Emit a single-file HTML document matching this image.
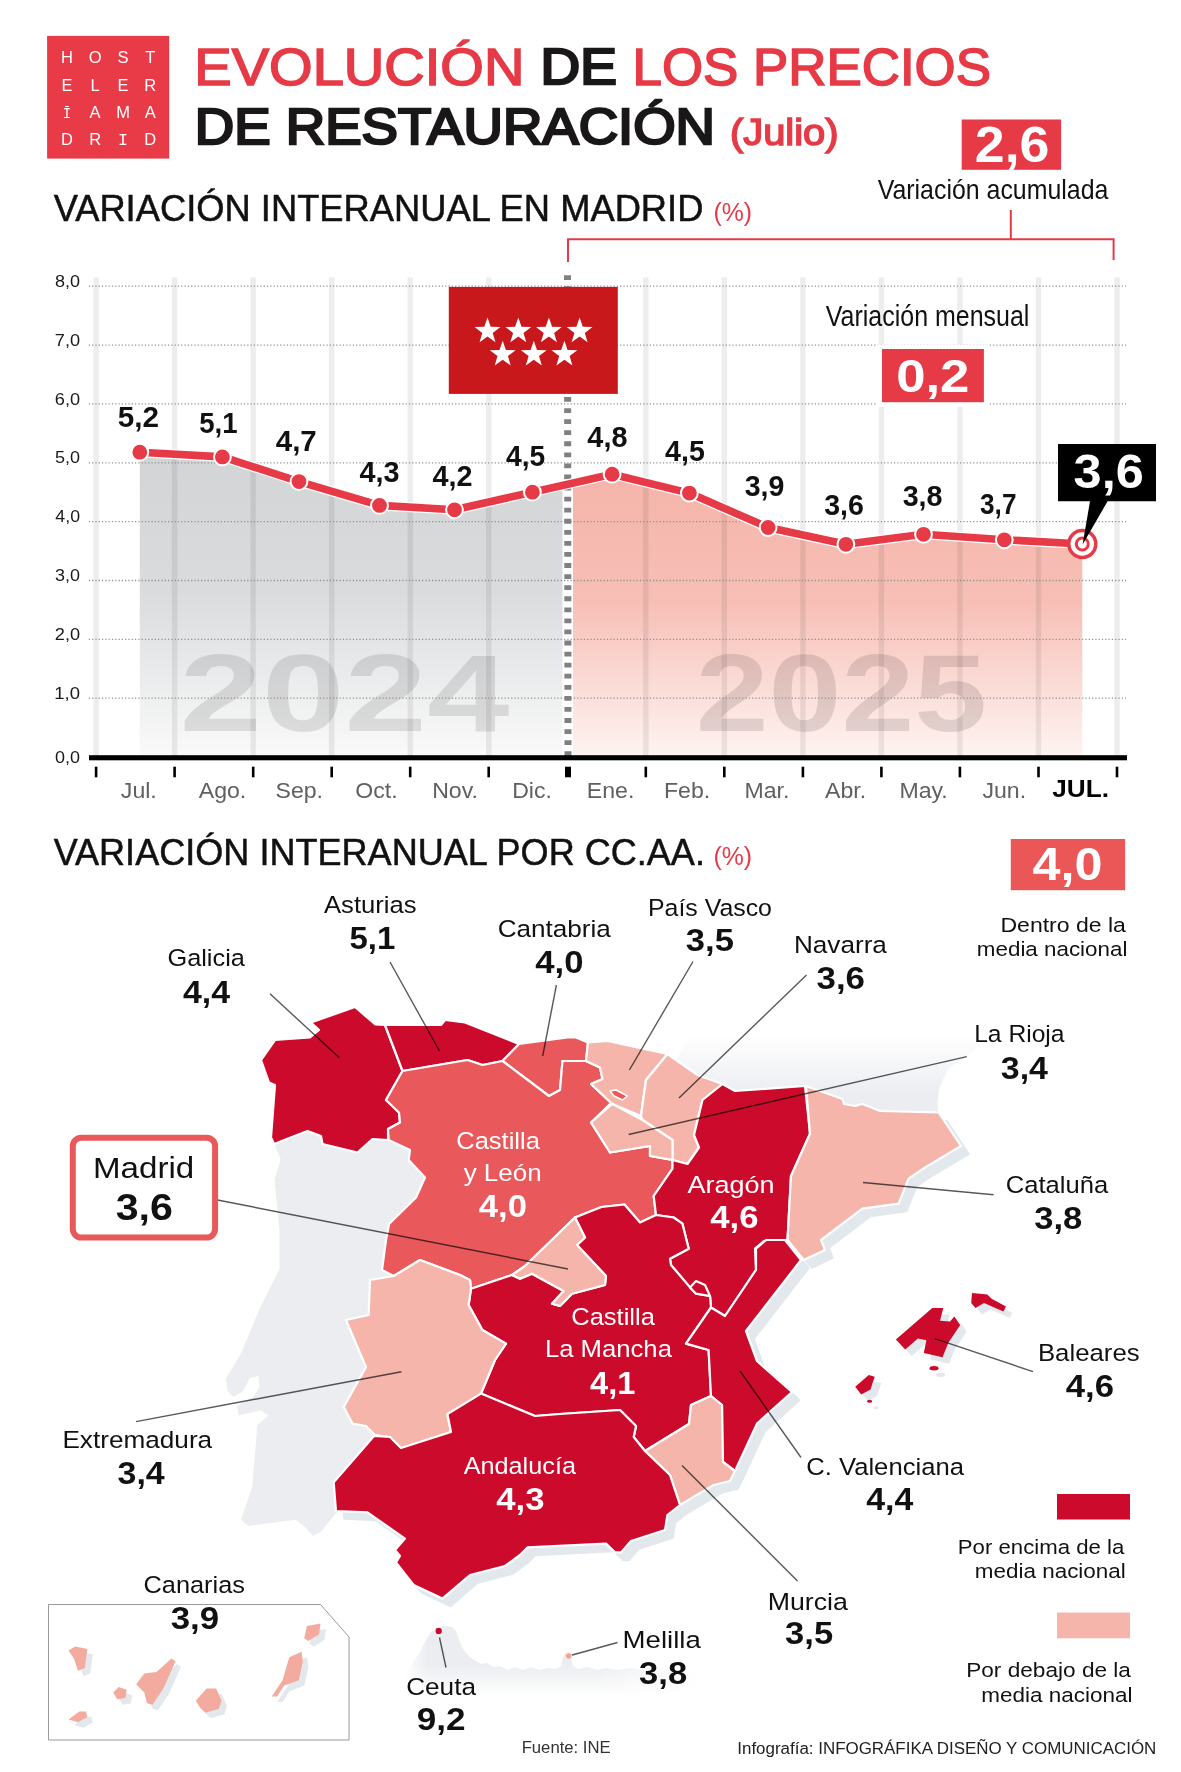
<!DOCTYPE html>
<html lang="es"><head><meta charset="utf-8"><title>Evolución de los precios de restauración</title>
<style>
html,body{margin:0;padding:0;background:#fff;}
body{width:1181px;height:1772px;overflow:hidden;font-family:"Liberation Sans", sans-serif;}
svg{display:block;font-family:"Liberation Sans", sans-serif;}
text{white-space:pre;}
</style></head><body>
<svg width="1181" height="1772" viewBox="0 0 1181 1772">
<defs>
<linearGradient id="gGray" x1="0" y1="0" x2="0" y2="1"><stop offset="0" stop-color="#D2D4D6"/><stop offset="0.45" stop-color="#D9DBDD"/><stop offset="1" stop-color="#FAFAFA"/></linearGradient>
<linearGradient id="gPink" x1="0" y1="0" x2="0" y2="1"><stop offset="0" stop-color="#F5B4A9"/><stop offset="0.45" stop-color="#F7BFB6"/><stop offset="1" stop-color="#FEF4F2"/></linearGradient>
<linearGradient id="gFrance" x1="0" y1="0" x2="0" y2="1"><stop offset="0.08" stop-color="#FFFFFF"/><stop offset="0.72" stop-color="#EBEDF1"/></linearGradient>
<linearGradient id="gMorocco" x1="0" y1="0" x2="0" y2="1"><stop offset="0.55" stop-color="#EBEDF1"/><stop offset="1" stop-color="#FFFFFF"/></linearGradient>
<linearGradient id="gFadeR" x1="0" y1="0" x2="1" y2="0"><stop offset="0" stop-color="#fff" stop-opacity="0"/><stop offset="0.9" stop-color="#fff" stop-opacity="1"/></linearGradient>
<linearGradient id="gFadeL" x1="0" y1="0" x2="1" y2="0"><stop offset="0.2" stop-color="#fff" stop-opacity="1"/><stop offset="1" stop-color="#fff" stop-opacity="0"/></linearGradient>
</defs>
<g id="header">
<rect x="47.1" y="35.9" width="122.1" height="122.7" fill="#E83A47"/>
<text x="67 95.1 123 150.2" y="63.2" font-size="16.5" fill="#fff" text-anchor="middle">HOST</text>
<text x="67 95.1 123 150.2" y="90.5" font-size="16.5" fill="#fff" text-anchor="middle">ELER</text>
<text x="67 95.1 123 150.2" y="118.3" font-size="16.5" fill="#fff" text-anchor="middle"><tspan font-family="Liberation Mono, monospace" font-size="14">Ī</tspan>AMA</text>
<text x="67 95.1 123 150.2" y="145.0" font-size="16.5" fill="#fff" text-anchor="middle">DR<tspan font-family="Liberation Mono, monospace">I</tspan>D</text>
<text x="194.32" y="85.4" font-size="52" font-weight="400" fill="#E63A47" textLength="330.10" lengthAdjust="spacingAndGlyphs" stroke="#E63A47" stroke-width="1.6">EVOLUCIÓN</text>
<text x="540.56" y="84.4" font-size="49.5" font-weight="400" fill="#1a1718" textLength="76.21" lengthAdjust="spacingAndGlyphs" stroke="#1a1718" stroke-width="2.5" stroke-linejoin="miter">DE</text>
<text x="632.57" y="85.4" font-size="52" font-weight="400" fill="#E63A47" textLength="358.44" lengthAdjust="spacingAndGlyphs" stroke="#E63A47" stroke-width="1.6">LOS PRECIOS</text>
<text x="194.89" y="143.8" font-size="50.5" font-weight="400" fill="#1a1718" textLength="520.14" lengthAdjust="spacingAndGlyphs" stroke="#1a1718" stroke-width="2.5" stroke-linejoin="miter">DE RESTAURACIÓN</text>
<text x="729.96" y="145.0" font-size="36.5" font-weight="400" fill="#E63A47" textLength="108.60" lengthAdjust="spacingAndGlyphs" stroke="#E63A47" stroke-width="1.5">(Julio)</text>
<rect x="961.7" y="119.5" width="99.4" height="50.3" fill="#E63A47"/>
<text x="974.79" y="162.2" font-size="49.5" font-weight="700" fill="#fff" textLength="74.60" lengthAdjust="spacingAndGlyphs" >2,6</text>
<text x="877.70" y="199.2" font-size="28" font-weight="400" fill="#111" textLength="230.68" lengthAdjust="spacingAndGlyphs" >Variación acumulada</text>
<path d="M568,262 V239.2 H1113.6 V260 M1010.8,239.2 V210" fill="none" stroke="#E63A47" stroke-width="2"/>
<text x="53.65" y="221.0" font-size="37" font-weight="400" fill="#111" textLength="649.79" lengthAdjust="spacingAndGlyphs" stroke="#111" stroke-width="0.5">VARIACIÓN INTERANUAL EN MADRID</text>
<text x="713.41" y="221.0" font-size="25.5" font-weight="400" fill="#E63A47" textLength="38.58" lengthAdjust="spacingAndGlyphs" >(%)</text>
</g>
<g id="chart">
<polygon points="139.8,452.2 222.4,456.9 299.0,481.6 379.5,505.4 454.5,509.8 532.4,492.2 568,484.2 568,757.0 139.8,757.0" fill="url(#gGray)"/>
<polygon points="568,484.2 612.1,474.2 689.4,493.1 768.1,527.5 845.9,544.3 923.5,534.3 1004.3,539.8 1082.3,544.0 1082.3,757.0 568,757.0" fill="url(#gPink)"/>
<rect x="562.5" y="440" width="10.5" height="317.0" fill="#fff"/>
<text x="179.55" y="731.2" font-size="109" font-weight="700" fill="#000" textLength="329.90" lengthAdjust="spacingAndGlyphs" fill-opacity="0.105">2024</text>
<text x="695.67" y="731.2" font-size="109" font-weight="700" fill="#1d1010" textLength="291.57" lengthAdjust="spacingAndGlyphs" fill-opacity="0.125">2025</text>
<rect x="93.35" y="277.5" width="5.5" height="479.5" fill="#000" fill-opacity="0.072"/>
<rect x="171.88" y="277.5" width="5.5" height="479.5" fill="#000" fill-opacity="0.072"/>
<rect x="250.41" y="277.5" width="5.5" height="479.5" fill="#000" fill-opacity="0.072"/>
<rect x="328.94" y="277.5" width="5.5" height="479.5" fill="#000" fill-opacity="0.072"/>
<rect x="407.47" y="277.5" width="5.5" height="479.5" fill="#000" fill-opacity="0.072"/>
<rect x="486.00" y="277.5" width="5.5" height="479.5" fill="#000" fill-opacity="0.072"/>
<rect x="643.06" y="277.5" width="5.5" height="479.5" fill="#000" fill-opacity="0.072"/>
<rect x="721.59" y="277.5" width="5.5" height="479.5" fill="#000" fill-opacity="0.072"/>
<rect x="800.12" y="277.5" width="5.5" height="479.5" fill="#000" fill-opacity="0.072"/>
<rect x="878.65" y="277.5" width="5.5" height="479.5" fill="#000" fill-opacity="0.072"/>
<rect x="957.18" y="277.5" width="5.5" height="479.5" fill="#000" fill-opacity="0.072"/>
<rect x="1035.71" y="277.5" width="5.5" height="479.5" fill="#000" fill-opacity="0.072"/>
<rect x="1114.24" y="277.5" width="5.5" height="479.5" fill="#000" fill-opacity="0.072"/>
<line x1="88.8" y1="698.1" x2="1126" y2="698.1" stroke="#8f8f8f" stroke-width="1.3" stroke-dasharray="1.2 2.1"/>
<line x1="88.8" y1="639.3" x2="1126" y2="639.3" stroke="#8f8f8f" stroke-width="1.3" stroke-dasharray="1.2 2.1"/>
<line x1="88.8" y1="580.5" x2="1126" y2="580.5" stroke="#8f8f8f" stroke-width="1.3" stroke-dasharray="1.2 2.1"/>
<line x1="88.8" y1="521.6" x2="1126" y2="521.6" stroke="#8f8f8f" stroke-width="1.3" stroke-dasharray="1.2 2.1"/>
<line x1="88.8" y1="462.8" x2="1126" y2="462.8" stroke="#8f8f8f" stroke-width="1.3" stroke-dasharray="1.2 2.1"/>
<line x1="88.8" y1="403.9" x2="1126" y2="403.9" stroke="#8f8f8f" stroke-width="1.3" stroke-dasharray="1.2 2.1"/>
<line x1="88.8" y1="345.1" x2="1126" y2="345.1" stroke="#8f8f8f" stroke-width="1.3" stroke-dasharray="1.2 2.1"/>
<line x1="88.8" y1="286.2" x2="1126" y2="286.2" stroke="#8f8f8f" stroke-width="1.3" stroke-dasharray="1.2 2.1"/>
<text x="55.07" y="762.8" font-size="16.3" font-weight="400" fill="#1a1a1a" textLength="24.96" lengthAdjust="spacingAndGlyphs" >0,0</text>
<text x="54.31" y="698.9" font-size="16.3" font-weight="400" fill="#1a1a1a" textLength="25.74" lengthAdjust="spacingAndGlyphs" >1,0</text>
<text x="54.79" y="640.0" font-size="16.3" font-weight="400" fill="#1a1a1a" textLength="25.25" lengthAdjust="spacingAndGlyphs" >2,0</text>
<text x="55.07" y="581.2" font-size="16.3" font-weight="400" fill="#1a1a1a" textLength="24.96" lengthAdjust="spacingAndGlyphs" >3,0</text>
<text x="55.34" y="522.3" font-size="16.3" font-weight="400" fill="#1a1a1a" textLength="24.68" lengthAdjust="spacingAndGlyphs" >4,0</text>
<text x="54.98" y="463.4" font-size="16.3" font-weight="400" fill="#1a1a1a" textLength="25.05" lengthAdjust="spacingAndGlyphs" >5,0</text>
<text x="54.79" y="404.6" font-size="16.3" font-weight="400" fill="#1a1a1a" textLength="25.25" lengthAdjust="spacingAndGlyphs" >6,0</text>
<text x="54.79" y="345.8" font-size="16.3" font-weight="400" fill="#1a1a1a" textLength="25.25" lengthAdjust="spacingAndGlyphs" >7,0</text>
<text x="54.98" y="286.9" font-size="16.3" font-weight="400" fill="#1a1a1a" textLength="25.05" lengthAdjust="spacingAndGlyphs" >8,0</text>
<line x1="567.5" y1="275.3" x2="568" y2="757.0" stroke="#808080" stroke-width="7" stroke-dasharray="4.8 6.27"/>
<rect x="448.8" y="286.9" width="169" height="107" fill="#C8181C"/>
<polygon points="487.5,317.6 490.7,326.8 500.4,327.0 492.7,332.9 495.5,342.2 487.5,336.6 479.5,342.2 482.3,332.9 474.6,327.0 484.3,326.8" fill="#fff"/>
<polygon points="518.3,317.6 521.5,326.8 531.2,327.0 523.5,332.9 526.3,342.2 518.3,336.6 510.3,342.2 513.1,332.9 505.4,327.0 515.1,326.8" fill="#fff"/>
<polygon points="548.9,317.6 552.1,326.8 561.8,327.0 554.1,332.9 556.9,342.2 548.9,336.6 540.9,342.2 543.7,332.9 536.0,327.0 545.7,326.8" fill="#fff"/>
<polygon points="579.6,317.6 582.8,326.8 592.5,327.0 584.8,332.9 587.6,342.2 579.6,336.6 571.6,342.2 574.4,332.9 566.7,327.0 576.4,326.8" fill="#fff"/>
<polygon points="502.7,340.8 505.9,350.0 515.6,350.2 507.9,356.1 510.7,365.4 502.7,359.8 494.7,365.4 497.5,356.1 489.8,350.2 499.5,350.0" fill="#fff"/>
<polygon points="533.8,340.8 537.0,350.0 546.7,350.2 539.0,356.1 541.8,365.4 533.8,359.8 525.8,365.4 528.6,356.1 520.9,350.2 530.6,350.0" fill="#fff"/>
<polygon points="564.4,340.8 567.6,350.0 577.3,350.2 569.6,356.1 572.4,365.4 564.4,359.8 556.4,365.4 559.2,356.1 551.5,350.2 561.2,350.0" fill="#fff"/>
<polyline points="139.8,452.2 222.4,456.9 299.0,481.6 379.5,505.4 454.5,509.8 532.4,492.2 612.1,474.2 689.4,493.1 768.1,527.5 845.9,544.3 923.5,534.3 1004.3,539.8 1082.3,544.0" fill="none" stroke="#fff" stroke-width="10" stroke-linejoin="round" stroke-linecap="round"/>
<polyline points="139.8,452.2 222.4,456.9 299.0,481.6 379.5,505.4 454.5,509.8 532.4,492.2 612.1,474.2 689.4,493.1 768.1,527.5 845.9,544.3 923.5,534.3 1004.3,539.8 1082.3,544.0" fill="none" stroke="#E63A47" stroke-width="7.6" stroke-linejoin="round" stroke-linecap="round"/>
<circle cx="139.8" cy="452.2" r="8.4" fill="#E63A47" stroke="#fff" stroke-width="2"/>
<circle cx="222.4" cy="456.9" r="8.4" fill="#E63A47" stroke="#fff" stroke-width="2"/>
<circle cx="299.0" cy="481.6" r="8.4" fill="#E63A47" stroke="#fff" stroke-width="2"/>
<circle cx="379.5" cy="505.4" r="8.4" fill="#E63A47" stroke="#fff" stroke-width="2"/>
<circle cx="454.5" cy="509.8" r="8.4" fill="#E63A47" stroke="#fff" stroke-width="2"/>
<circle cx="532.4" cy="492.2" r="8.4" fill="#E63A47" stroke="#fff" stroke-width="2"/>
<circle cx="612.1" cy="474.2" r="8.4" fill="#E63A47" stroke="#fff" stroke-width="2"/>
<circle cx="689.4" cy="493.1" r="8.4" fill="#E63A47" stroke="#fff" stroke-width="2"/>
<circle cx="768.1" cy="527.5" r="8.4" fill="#E63A47" stroke="#fff" stroke-width="2"/>
<circle cx="845.9" cy="544.3" r="8.4" fill="#E63A47" stroke="#fff" stroke-width="2"/>
<circle cx="923.5" cy="534.3" r="8.4" fill="#E63A47" stroke="#fff" stroke-width="2"/>
<circle cx="1004.3" cy="539.8" r="8.4" fill="#E63A47" stroke="#fff" stroke-width="2"/>
<circle cx="1082.3" cy="544.0" r="13.5" fill="#fff" stroke="#E63A47" stroke-width="3.5"/>
<circle cx="1082.3" cy="544.0" r="6" fill="none" stroke="#E63A47" stroke-width="3"/>
<text x="117.81" y="426.7" font-size="30" font-weight="700" fill="#111" textLength="41.23" lengthAdjust="spacingAndGlyphs" >5,2</text>
<text x="199.17" y="432.5" font-size="30" font-weight="700" fill="#111" textLength="38.42" lengthAdjust="spacingAndGlyphs" >5,1</text>
<text x="275.76" y="450.8" font-size="30" font-weight="700" fill="#111" textLength="41.03" lengthAdjust="spacingAndGlyphs" >4,7</text>
<text x="359.57" y="482.2" font-size="30" font-weight="700" fill="#111" textLength="40.04" lengthAdjust="spacingAndGlyphs" >4,3</text>
<text x="432.47" y="485.5" font-size="30" font-weight="700" fill="#111" textLength="40.04" lengthAdjust="spacingAndGlyphs" >4,2</text>
<text x="506.08" y="465.7" font-size="30" font-weight="700" fill="#111" textLength="39.23" lengthAdjust="spacingAndGlyphs" >4,5</text>
<text x="587.37" y="446.7" font-size="30" font-weight="700" fill="#111" textLength="40.06" lengthAdjust="spacingAndGlyphs" >4,8</text>
<text x="665.07" y="460.6" font-size="30" font-weight="700" fill="#111" textLength="39.75" lengthAdjust="spacingAndGlyphs" >4,5</text>
<text x="744.73" y="495.7" font-size="30" font-weight="700" fill="#111" textLength="39.67" lengthAdjust="spacingAndGlyphs" >3,9</text>
<text x="824.23" y="514.7" font-size="30" font-weight="700" fill="#111" textLength="39.67" lengthAdjust="spacingAndGlyphs" >3,6</text>
<text x="902.63" y="506.4" font-size="30" font-weight="700" fill="#111" textLength="39.90" lengthAdjust="spacingAndGlyphs" >3,8</text>
<text x="980.08" y="514.0" font-size="30" font-weight="700" fill="#111" textLength="36.37" lengthAdjust="spacingAndGlyphs" >3,7</text>
<path d="M1058,444 H1156 V501.3 H1107.6 L1082.6,544.5 L1090,501.3 H1058 Z" fill="#000"/>
<text x="1073.59" y="488.0" font-size="49" font-weight="700" fill="#fff" textLength="70.18" lengthAdjust="spacingAndGlyphs" >3,6</text>
<text x="825.80" y="326.3" font-size="29" font-weight="400" fill="#111" textLength="203.56" lengthAdjust="spacingAndGlyphs" >Variación mensual</text>
<rect x="877" y="344.5" width="112.3" height="62.5" fill="#fff"/>
<rect x="882" y="349" width="101.9" height="53.2" fill="#E63A47"/>
<text x="896.15" y="392.4" font-size="46" font-weight="700" fill="#fff" textLength="73.30" lengthAdjust="spacingAndGlyphs" >0,2</text>
<rect x="89" y="755.2" width="1038" height="5.1" fill="#000"/>
<rect x="94.8" y="766.7" width="2.6" height="10.6" fill="#000"/>
<rect x="173.3" y="766.7" width="2.6" height="10.6" fill="#000"/>
<rect x="251.9" y="766.7" width="2.6" height="10.6" fill="#000"/>
<rect x="330.4" y="766.7" width="2.6" height="10.6" fill="#000"/>
<rect x="408.9" y="766.7" width="2.6" height="10.6" fill="#000"/>
<rect x="487.4" y="766.7" width="2.6" height="10.6" fill="#000"/>
<rect x="565.0" y="766.7" width="6" height="10.6" fill="#000"/>
<rect x="644.5" y="766.7" width="2.6" height="10.6" fill="#000"/>
<rect x="723.0" y="766.7" width="2.6" height="10.6" fill="#000"/>
<rect x="801.6" y="766.7" width="2.6" height="10.6" fill="#000"/>
<rect x="880.1" y="766.7" width="2.6" height="10.6" fill="#000"/>
<rect x="958.6" y="766.7" width="2.6" height="10.6" fill="#000"/>
<rect x="1037.2" y="766.7" width="2.6" height="10.6" fill="#000"/>
<rect x="1115.7" y="766.7" width="2.6" height="10.6" fill="#000"/>
<text x="120.85" y="797.8" font-size="22.5" font-weight="400" fill="#5f6062" textLength="35.95" lengthAdjust="spacingAndGlyphs" >Jul.</text>
<text x="198.75" y="797.8" font-size="22.5" font-weight="400" fill="#5f6062" textLength="47.52" lengthAdjust="spacingAndGlyphs" >Ago.</text>
<text x="275.53" y="797.8" font-size="22.5" font-weight="400" fill="#5f6062" textLength="47.52" lengthAdjust="spacingAndGlyphs" >Sep.</text>
<text x="355.33" y="797.8" font-size="22.5" font-weight="400" fill="#5f6062" textLength="42.35" lengthAdjust="spacingAndGlyphs" >Oct.</text>
<text x="432.19" y="797.8" font-size="22.5" font-weight="400" fill="#5f6062" textLength="45.78" lengthAdjust="spacingAndGlyphs" >Nov.</text>
<text x="512.19" y="797.8" font-size="22.5" font-weight="400" fill="#5f6062" textLength="39.78" lengthAdjust="spacingAndGlyphs" >Dic.</text>
<text x="586.82" y="797.8" font-size="22.5" font-weight="400" fill="#5f6062" textLength="47.52" lengthAdjust="spacingAndGlyphs" >Ene.</text>
<text x="663.96" y="797.8" font-size="22.5" font-weight="400" fill="#5f6062" textLength="46.22" lengthAdjust="spacingAndGlyphs" >Feb.</text>
<text x="744.45" y="797.8" font-size="22.5" font-weight="400" fill="#5f6062" textLength="44.93" lengthAdjust="spacingAndGlyphs" >Mar.</text>
<text x="825.08" y="797.8" font-size="22.5" font-weight="400" fill="#5f6062" textLength="41.09" lengthAdjust="spacingAndGlyphs" >Abr.</text>
<text x="899.42" y="797.8" font-size="22.5" font-weight="400" fill="#5f6062" textLength="48.34" lengthAdjust="spacingAndGlyphs" >May.</text>
<text x="982.44" y="797.8" font-size="22.5" font-weight="400" fill="#5f6062" textLength="43.66" lengthAdjust="spacingAndGlyphs" >Jun.</text>
<text x="1052.31" y="797.3" font-size="23.7" font-weight="700" fill="#000" textLength="56.75" lengthAdjust="spacingAndGlyphs" >JUL.</text>
</g>
<g id="map">
<text x="53.65" y="864.7" font-size="37" font-weight="400" fill="#111" textLength="651.31" lengthAdjust="spacingAndGlyphs" stroke="#111" stroke-width="0.5">VARIACIÓN INTERANUAL POR CC.AA.</text>
<text x="713.41" y="864.7" font-size="25.5" font-weight="400" fill="#E63A47" textLength="38.58" lengthAdjust="spacingAndGlyphs" >(%)</text>
<rect x="1010.8" y="839" width="114.3" height="51.2" fill="#EB5656"/>
<text x="1032.45" y="880.1" font-size="46.8" font-weight="700" fill="#fff" textLength="69.92" lengthAdjust="spacingAndGlyphs" >4,0</text>
<text x="1000.46" y="931.8" font-size="20.5" font-weight="400" fill="#111" textLength="125.49" lengthAdjust="spacingAndGlyphs" >Dentro de la</text>
<text x="976.85" y="956.3" font-size="20.5" font-weight="400" fill="#111" textLength="150.54" lengthAdjust="spacingAndGlyphs" >media nacional</text>
<g transform="translate(8,8)" fill="#E3E8ED" stroke="#E3E8ED" stroke-width="1.5" stroke-linejoin="round">
<polygon points="311.0,1022.5 355.0,1007.0 375.4,1024.5 385.0,1025.0 402.5,1071.0 386.0,1100.0 399.0,1112.5 400.0,1122.5 388.0,1129.0 388.0,1140.0 372.5,1139.0 357.5,1152.5 322.5,1144.0 321.0,1136.0 307.5,1131.0 274.0,1144.0 271.0,1137.5 275.0,1085.0 269.0,1082.5 261.0,1060.0 275.0,1040.0 310.0,1037.5 319.0,1030.0"/>
<polygon points="385.0,1025.0 441.0,1025.0 445.0,1020.0 465.0,1022.5 519.0,1044.0 502.5,1061.0 482.5,1065.0 467.5,1060.0 402.5,1071.0"/>
<polygon points="519.0,1044.0 567.5,1037.5 576.0,1037.5 588.0,1042.5 586.0,1061.0 562.5,1061.0 560.0,1090.0 549.0,1096.0 502.5,1061.0"/>
<polygon points="588.0,1042.5 607.5,1041.0 667.5,1054.0 646.0,1080.0 641.0,1116.0 612.5,1104.0 591.0,1084.0 602.5,1079.0 600.0,1067.5 586.0,1061.0"/>
<polygon points="667.5,1054.0 672.5,1057.5 697.5,1075.0 722.5,1084.0 702.5,1100.0 694.0,1135.0 699.0,1147.5 687.5,1164.0 672.5,1160.0 672.5,1140.0 642.5,1120.0 641.0,1116.0 646.0,1080.0"/>
<polygon points="611.0,1105.0 591.0,1122.5 610.0,1152.5 650.0,1146.0 650.0,1156.0 672.5,1160.0 672.5,1140.0 642.5,1120.0 612.5,1104.0"/>
<polygon points="402.5,1071.0 467.5,1060.0 482.5,1065.0 502.5,1061.0 549.0,1096.0 560.0,1090.0 562.5,1061.0 586.0,1061.0 600.0,1067.5 602.5,1079.0 591.0,1084.0 611.0,1103.0 591.0,1122.5 610.0,1152.5 650.0,1146.0 650.0,1156.0 672.5,1160.0 672.5,1168.7 653.7,1196.0 656.0,1215.0 640.0,1222.5 624.5,1204.5 601.5,1207.0 575.0,1217.5 525.0,1266.0 512.0,1275.0 471.0,1288.7 470.0,1280.0 460.0,1275.0 420.0,1260.0 393.7,1276.0 382.0,1270.0 386.0,1240.0 389.0,1224.0 416.0,1197.5 425.0,1177.5 408.7,1160.0 410.0,1150.0 388.7,1140.0 388.0,1129.0 400.0,1122.5 399.0,1112.5 386.0,1100.0"/>
<polygon points="575.0,1217.5 525.0,1266.0 512.0,1275.0 520.0,1278.7 532.0,1273.7 563.6,1291.0 552.0,1303.7 560.0,1306.0 572.0,1293.7 605.0,1285.0 606.0,1276.0 577.0,1245.0 585.0,1237.5"/>
<polygon points="722.5,1084.0 735.0,1091.0 805.0,1086.0 810.0,1133.7 791.0,1176.0 787.5,1240.0 764.0,1241.0 755.0,1248.6 756.0,1270.0 725.0,1316.0 711.0,1307.5 710.0,1296.0 696.0,1293.7 690.0,1287.4 671.0,1265.0 670.0,1258.7 688.7,1248.7 682.4,1223.7 673.7,1217.5 656.0,1215.0 653.7,1196.0 672.5,1168.7 672.5,1160.0 687.5,1164.0 699.0,1147.5 694.0,1135.0 702.5,1100.0"/>
<polygon points="806.0,1086.0 842.5,1099.0 844.0,1104.0 855.0,1106.0 862.5,1104.0 880.0,1111.0 938.6,1112.5 961.0,1146.0 925.0,1167.5 908.6,1178.6 898.6,1203.6 862.4,1208.6 821.0,1240.0 825.0,1250.0 803.7,1260.0 787.5,1240.0 791.0,1176.0 810.0,1133.7"/>
<polygon points="766.0,1240.0 785.0,1240.0 801.0,1260.0 746.0,1331.0 757.0,1361.0 792.0,1392.0 757.0,1423.6 735.0,1471.0 722.0,1461.0 722.0,1405.0 711.0,1396.0 708.6,1350.0 686.0,1343.6 711.0,1307.5 725.0,1316.0 756.0,1270.0 756.0,1248.7"/>
<polygon points="691.0,1405.0 711.0,1396.0 722.0,1405.0 723.0,1462.0 735.0,1471.0 730.0,1481.0 713.6,1485.0 680.0,1505.0 670.0,1475.0 645.0,1451.0 689.0,1424.0"/>
<polygon points="575.0,1217.5 601.5,1207.0 624.5,1204.5 640.0,1222.5 656.0,1215.0 673.7,1217.5 682.4,1223.7 688.7,1248.7 670.0,1258.7 671.0,1265.0 690.0,1287.4 696.0,1293.7 710.0,1296.0 711.0,1307.5 686.0,1343.6 708.6,1350.0 711.0,1396.0 691.0,1405.0 689.0,1424.0 645.0,1451.0 633.7,1437.0 636.0,1426.0 620.0,1410.0 560.0,1414.0 535.0,1416.0 481.0,1393.6 495.0,1360.0 506.0,1343.6 482.4,1330.0 468.6,1305.0 471.0,1288.7 512.0,1275.0 520.0,1278.7 532.0,1273.7 563.6,1291.0 552.0,1303.7 560.0,1306.0 572.0,1293.7 605.0,1285.0 606.0,1276.0 577.0,1245.0 585.0,1237.5"/>
<polygon points="370.0,1280.0 393.7,1276.0 420.0,1260.0 460.0,1275.0 470.0,1280.0 471.0,1288.7 468.6,1305.0 482.4,1330.0 506.0,1343.6 495.0,1360.0 481.0,1393.6 447.4,1416.0 451.0,1432.0 401.0,1448.6 390.0,1437.0 375.0,1435.0 366.0,1426.0 352.5,1423.6 343.7,1407.0 366.0,1367.0 346.0,1320.0 368.7,1315.0"/>
<polygon points="374.0,1436.0 390.0,1437.0 401.0,1448.0 451.0,1432.0 447.4,1414.0 481.0,1393.6 535.0,1416.0 560.0,1414.0 620.0,1410.0 636.0,1426.0 633.7,1437.0 645.0,1451.0 670.0,1475.0 680.0,1505.0 667.4,1515.0 665.0,1530.0 631.0,1541.0 621.0,1552.4 615.0,1552.4 606.0,1543.6 527.4,1547.4 520.0,1555.0 505.0,1566.0 470.0,1575.0 442.4,1598.6 413.7,1585.0 408.7,1578.6 396.0,1562.4 400.0,1556.0 395.0,1550.0 405.0,1538.6 367.5,1512.4 336.0,1511.0 333.7,1482.4"/>
</g>
<polygon points="676.0,1060.0 684.0,1046.0 692.0,1028.0 990.0,1028.0 985.0,1036.0 977.0,1048.0 965.0,1058.0 949.0,1068.0 944.0,1077.0 939.0,1090.0 937.5,1102.0 938.0,1114.0 880.0,1113.0 810.0,1120.0 740.0,1100.0" fill="url(#gFrance)"/>
<polygon points="274.5,1144.8 280.7,1159.7 274.5,1179.6 279.5,1231.7 279.5,1269.0 259.6,1308.7 241.0,1353.4 226.0,1378.3 227.3,1390.7 233.5,1396.9 243.5,1390.7 249.7,1378.3 258.4,1375.8 259.6,1387.0 253.4,1396.9 237.2,1405.6 238.5,1415.5 260.8,1410.5 268.3,1415.5 257.1,1425.4 255.9,1442.8 252.1,1487.5 241.0,1519.8 248.4,1526.0 295.6,1519.8 305.5,1527.3 313.0,1536.0 320.4,1532.2 337.0,1512.0 345.0,1500.0 400.0,1440.0 440.0,1300.0 430.0,1180.0 400.0,1130.0 330.0,1125.0" fill="#EBEDF1"/>
<polygon points="404.0,1676.0 412.0,1664.0 420.0,1652.0 426.0,1640.0 431.0,1632.0 437.0,1627.5 445.0,1626.0 452.0,1627.0 456.0,1631.0 459.0,1640.0 463.0,1649.0 468.0,1655.0 474.0,1660.0 481.0,1664.0 487.0,1663.0 493.0,1667.0 500.0,1666.0 507.0,1670.0 515.0,1667.0 523.0,1670.0 531.0,1667.0 540.0,1670.0 548.0,1668.0 556.0,1669.0 561.0,1666.0 563.0,1656.0 567.0,1652.0 571.0,1657.0 573.0,1666.0 578.0,1669.0 588.0,1667.0 597.0,1670.0 607.0,1668.0 618.0,1670.0 630.0,1668.0 642.0,1670.0 660.0,1669.0 705.0,1671.0 705.0,1696.0 398.0,1696.0" fill="url(#gMorocco)"/>
<rect x="600" y="1640" width="110" height="60" fill="url(#gFadeR)"/>
<rect x="398" y="1640" width="30" height="60" fill="url(#gFadeL)"/>
<g stroke="#fff" stroke-width="2.2" stroke-linejoin="round">
<polygon points="311.0,1022.5 355.0,1007.0 375.4,1024.5 385.0,1025.0 402.5,1071.0 386.0,1100.0 399.0,1112.5 400.0,1122.5 388.0,1129.0 388.0,1140.0 372.5,1139.0 357.5,1152.5 322.5,1144.0 321.0,1136.0 307.5,1131.0 274.0,1144.0 271.0,1137.5 275.0,1085.0 269.0,1082.5 261.0,1060.0 275.0,1040.0 310.0,1037.5 319.0,1030.0" fill="#CB0A2C"/>
<polygon points="385.0,1025.0 441.0,1025.0 445.0,1020.0 465.0,1022.5 519.0,1044.0 502.5,1061.0 482.5,1065.0 467.5,1060.0 402.5,1071.0" fill="#CB0A2C"/>
<polygon points="519.0,1044.0 567.5,1037.5 576.0,1037.5 588.0,1042.5 586.0,1061.0 562.5,1061.0 560.0,1090.0 549.0,1096.0 502.5,1061.0" fill="#E9595C"/>
<polygon points="402.5,1071.0 467.5,1060.0 482.5,1065.0 502.5,1061.0 549.0,1096.0 560.0,1090.0 562.5,1061.0 586.0,1061.0 600.0,1067.5 602.5,1079.0 591.0,1084.0 611.0,1103.0 591.0,1122.5 610.0,1152.5 650.0,1146.0 650.0,1156.0 672.5,1160.0 672.5,1168.7 653.7,1196.0 656.0,1215.0 640.0,1222.5 624.5,1204.5 601.5,1207.0 575.0,1217.5 525.0,1266.0 512.0,1275.0 471.0,1288.7 470.0,1280.0 460.0,1275.0 420.0,1260.0 393.7,1276.0 382.0,1270.0 386.0,1240.0 389.0,1224.0 416.0,1197.5 425.0,1177.5 408.7,1160.0 410.0,1150.0 388.7,1140.0 388.0,1129.0 400.0,1122.5 399.0,1112.5 386.0,1100.0" fill="#E9595C"/>
<polygon points="588.0,1042.5 607.5,1041.0 667.5,1054.0 646.0,1080.0 641.0,1116.0 612.5,1104.0 591.0,1084.0 602.5,1079.0 600.0,1067.5 586.0,1061.0" fill="#F5B5AA"/>
<polygon points="667.5,1054.0 672.5,1057.5 697.5,1075.0 722.5,1084.0 702.5,1100.0 694.0,1135.0 699.0,1147.5 687.5,1164.0 672.5,1160.0 672.5,1140.0 642.5,1120.0 641.0,1116.0 646.0,1080.0" fill="#F5B5AA"/>
<polygon points="611.0,1105.0 591.0,1122.5 610.0,1152.5 650.0,1146.0 650.0,1156.0 672.5,1160.0 672.5,1140.0 642.5,1120.0 612.5,1104.0" fill="#F5B5AA"/>
<polygon points="722.5,1084.0 735.0,1091.0 805.0,1086.0 810.0,1133.7 791.0,1176.0 787.5,1240.0 764.0,1241.0 755.0,1248.6 756.0,1270.0 725.0,1316.0 711.0,1307.5 710.0,1296.0 696.0,1293.7 690.0,1287.4 671.0,1265.0 670.0,1258.7 688.7,1248.7 682.4,1223.7 673.7,1217.5 656.0,1215.0 653.7,1196.0 672.5,1168.7 672.5,1160.0 687.5,1164.0 699.0,1147.5 694.0,1135.0 702.5,1100.0" fill="#CB0A2C"/>
<polygon points="806.0,1086.0 842.5,1099.0 844.0,1104.0 855.0,1106.0 862.5,1104.0 880.0,1111.0 938.6,1112.5 961.0,1146.0 925.0,1167.5 908.6,1178.6 898.6,1203.6 862.4,1208.6 821.0,1240.0 825.0,1250.0 803.7,1260.0 787.5,1240.0 791.0,1176.0 810.0,1133.7" fill="#F5B5AA"/>
<polygon points="575.0,1217.5 601.5,1207.0 624.5,1204.5 640.0,1222.5 656.0,1215.0 673.7,1217.5 682.4,1223.7 688.7,1248.7 670.0,1258.7 671.0,1265.0 690.0,1287.4 696.0,1293.7 710.0,1296.0 711.0,1307.5 686.0,1343.6 708.6,1350.0 711.0,1396.0 691.0,1405.0 689.0,1424.0 645.0,1451.0 633.7,1437.0 636.0,1426.0 620.0,1410.0 560.0,1414.0 535.0,1416.0 481.0,1393.6 495.0,1360.0 506.0,1343.6 482.4,1330.0 468.6,1305.0 471.0,1288.7 512.0,1275.0 520.0,1278.7 532.0,1273.7 563.6,1291.0 552.0,1303.7 560.0,1306.0 572.0,1293.7 605.0,1285.0 606.0,1276.0 577.0,1245.0 585.0,1237.5" fill="#CB0A2C"/>
<polygon points="575.0,1217.5 525.0,1266.0 512.0,1275.0 520.0,1278.7 532.0,1273.7 563.6,1291.0 552.0,1303.7 560.0,1306.0 572.0,1293.7 605.0,1285.0 606.0,1276.0 577.0,1245.0 585.0,1237.5" fill="#F5B5AA"/>
<polygon points="766.0,1240.0 785.0,1240.0 801.0,1260.0 746.0,1331.0 757.0,1361.0 792.0,1392.0 757.0,1423.6 735.0,1471.0 722.0,1461.0 722.0,1405.0 711.0,1396.0 708.6,1350.0 686.0,1343.6 711.0,1307.5 725.0,1316.0 756.0,1270.0 756.0,1248.7" fill="#CB0A2C"/>
<polygon points="691.0,1405.0 711.0,1396.0 722.0,1405.0 723.0,1462.0 735.0,1471.0 730.0,1481.0 713.6,1485.0 680.0,1505.0 670.0,1475.0 645.0,1451.0 689.0,1424.0" fill="#F5B5AA"/>
<polygon points="370.0,1280.0 393.7,1276.0 420.0,1260.0 460.0,1275.0 470.0,1280.0 471.0,1288.7 468.6,1305.0 482.4,1330.0 506.0,1343.6 495.0,1360.0 481.0,1393.6 447.4,1416.0 451.0,1432.0 401.0,1448.6 390.0,1437.0 375.0,1435.0 366.0,1426.0 352.5,1423.6 343.7,1407.0 366.0,1367.0 346.0,1320.0 368.7,1315.0" fill="#F5B5AA"/>
<polygon points="374.0,1436.0 390.0,1437.0 401.0,1448.0 451.0,1432.0 447.4,1414.0 481.0,1393.6 535.0,1416.0 560.0,1414.0 620.0,1410.0 636.0,1426.0 633.7,1437.0 645.0,1451.0 670.0,1475.0 680.0,1505.0 667.4,1515.0 665.0,1530.0 631.0,1541.0 621.0,1552.4 615.0,1552.4 606.0,1543.6 527.4,1547.4 520.0,1555.0 505.0,1566.0 470.0,1575.0 442.4,1598.6 413.7,1585.0 408.7,1578.6 396.0,1562.4 400.0,1556.0 395.0,1550.0 405.0,1538.6 367.5,1512.4 336.0,1511.0 333.7,1482.4" fill="#CB0A2C"/>
<polygon points="690.0,1287.4 696.0,1281.0 705.0,1285.0 710.0,1296.0 696.0,1293.7" fill="#CB0A2C"/>
<polygon points="610.0,1091.0 616.0,1090.0 627.5,1096.0 622.5,1100.0 614.0,1096.0" fill="#E9595C" stroke-width="1.5"/>
</g>
<g transform="translate(6.5,6.5)" fill="#E3E8ED">
<polygon points="895.9,1339.4 932.3,1308.0 943.3,1308.0 940.0,1320.8 950.0,1321.6 954.3,1316.6 960.2,1325.0 948.4,1342.8 942.5,1357.2 923.8,1353.0 926.4,1340.3 917.9,1338.6 905.2,1349.6"/>
<polygon points="972.0,1292.9 987.3,1294.6 991.6,1298.8 1006.0,1306.4 1003.4,1311.5 984.0,1303.0 975.5,1308.0 971.2,1303.0"/>
<polygon points="855.2,1386.8 868.8,1375.0 874.7,1376.7 870.5,1389.4 861.2,1394.5"/>
<ellipse cx="934" cy="1368.2" rx="4.5" ry="2.2"/><ellipse cx="869.6" cy="1401.2" rx="2.6" ry="1.5"/></g>
<polygon points="895.9,1339.4 932.3,1308.0 943.3,1308.0 940.0,1320.8 950.0,1321.6 954.3,1316.6 960.2,1325.0 948.4,1342.8 942.5,1357.2 923.8,1353.0 926.4,1340.3 917.9,1338.6 905.2,1349.6" fill="#CB0A2C"/>
<polygon points="972.0,1292.9 987.3,1294.6 991.6,1298.8 1006.0,1306.4 1003.4,1311.5 984.0,1303.0 975.5,1308.0 971.2,1303.0" fill="#CB0A2C"/>
<polygon points="855.2,1386.8 868.8,1375.0 874.7,1376.7 870.5,1389.4 861.2,1394.5" fill="#CB0A2C"/>
<ellipse cx="934" cy="1368.2" rx="4.5" ry="2.2" fill="#CB0A2C"/><ellipse cx="869.6" cy="1401.2" rx="2.6" ry="1.5" fill="#CB0A2C"/>
<path d="M48.5,1604.5 H320.5 L349,1637 V1740 H48.5 Z" fill="#fff" stroke="#9a9a9a" stroke-width="1"/>
<g transform="translate(5.5,5.5)" fill="#E3E8ED">
<polygon points="68.5,1650.5 75.2,1646.4 87.4,1649.0 84.7,1668.0 78.0,1670.8 73.9,1658.6"/>
<polygon points="68.5,1719.6 79.3,1711.4 86.0,1711.4 87.4,1716.9 78.0,1722.3"/>
<polygon points="113.2,1692.5 118.6,1687.0 126.7,1689.8 125.4,1697.9 117.2,1699.2"/>
<polygon points="136.2,1684.3 144.3,1673.5 156.5,1672.1 171.4,1658.6 175.5,1661.3 163.3,1688.4 152.5,1704.7 147.0,1703.3 144.3,1692.5"/>
<polygon points="195.8,1700.6 206.7,1688.4 216.1,1688.4 221.6,1700.6 218.9,1708.7 205.3,1712.8 199.9,1707.4"/>
<polygon points="271.7,1696.5 282.5,1680.3 289.3,1657.2 301.5,1651.8 302.9,1661.3 298.8,1680.3 283.9,1685.7 277.1,1696.5"/>
<polygon points="306.9,1626.0 320.5,1623.4 319.1,1634.2 308.3,1641.0 304.2,1638.3"/>
</g>
<polygon points="68.5,1650.5 75.2,1646.4 87.4,1649.0 84.7,1668.0 78.0,1670.8 73.9,1658.6" fill="#F3AA9F"/>
<polygon points="68.5,1719.6 79.3,1711.4 86.0,1711.4 87.4,1716.9 78.0,1722.3" fill="#F3AA9F"/>
<polygon points="113.2,1692.5 118.6,1687.0 126.7,1689.8 125.4,1697.9 117.2,1699.2" fill="#F3AA9F"/>
<polygon points="136.2,1684.3 144.3,1673.5 156.5,1672.1 171.4,1658.6 175.5,1661.3 163.3,1688.4 152.5,1704.7 147.0,1703.3 144.3,1692.5" fill="#F3AA9F"/>
<polygon points="195.8,1700.6 206.7,1688.4 216.1,1688.4 221.6,1700.6 218.9,1708.7 205.3,1712.8 199.9,1707.4" fill="#F3AA9F"/>
<polygon points="271.7,1696.5 282.5,1680.3 289.3,1657.2 301.5,1651.8 302.9,1661.3 298.8,1680.3 283.9,1685.7 277.1,1696.5" fill="#F3AA9F"/>
<polygon points="306.9,1626.0 320.5,1623.4 319.1,1634.2 308.3,1641.0 304.2,1638.3" fill="#F3AA9F"/>
<g style="mix-blend-mode:multiply" stroke="#58595b" stroke-width="1.4">
<line x1="270" y1="993.8" x2="339.4" y2="1057.8"/>
<line x1="390" y1="962" x2="439.5" y2="1051"/>
<line x1="556.4" y1="985" x2="542.7" y2="1056"/>
<line x1="693" y1="961.5" x2="629.4" y2="1070"/>
<line x1="806.5" y1="975" x2="679" y2="1098"/>
<line x1="966.8" y1="1056.6" x2="628.7" y2="1134.5"/>
<line x1="993.6" y1="1194.8" x2="863" y2="1182.5"/>
<line x1="1033" y1="1371.6" x2="934.8" y2="1338.6"/>
<line x1="217.5" y1="1200" x2="568" y2="1269"/>
<line x1="136" y1="1421.6" x2="401.4" y2="1371.8"/>
<line x1="740" y1="1371" x2="801" y2="1457.5"/>
<line x1="682" y1="1465.5" x2="797.5" y2="1581"/>
<line x1="568.6" y1="1656" x2="617.5" y2="1642.5"/>
<line x1="439.5" y1="1637.5" x2="446" y2="1667.5"/>
</g>
<circle cx="438.7" cy="1631" r="3.8" fill="#CB0A2C" stroke="#fff" stroke-width="1.2"/>
<circle cx="568.6" cy="1656" r="3.1" fill="#F2A195" stroke="#fbe3de" stroke-width="1"/>
<rect x="72.8" y="1137.7" width="142.3" height="99.9" rx="8.5" fill="#fff" stroke="#E9585B" stroke-width="6"/>
<text x="324.00" y="913.0" font-size="24.5" font-weight="400" fill="#111" textLength="92.56" lengthAdjust="spacingAndGlyphs" >Asturias</text>
<text x="349.51" y="948.6" font-size="32" font-weight="700" fill="#111" textLength="45.82" lengthAdjust="spacingAndGlyphs" >5,1</text>
<text x="167.43" y="966.3" font-size="24.5" font-weight="400" fill="#111" textLength="77.48" lengthAdjust="spacingAndGlyphs" >Galicia</text>
<text x="183.04" y="1003.0" font-size="32" font-weight="700" fill="#111" textLength="47.01" lengthAdjust="spacingAndGlyphs" >4,4</text>
<text x="497.69" y="937.0" font-size="24.5" font-weight="400" fill="#111" textLength="113.20" lengthAdjust="spacingAndGlyphs" >Cantabria</text>
<text x="535.23" y="973.4" font-size="32" font-weight="700" fill="#111" textLength="48.24" lengthAdjust="spacingAndGlyphs" >4,0</text>
<text x="648.01" y="915.7" font-size="24.5" font-weight="400" fill="#111" textLength="123.96" lengthAdjust="spacingAndGlyphs" >País Vasco</text>
<text x="685.86" y="950.8" font-size="32" font-weight="700" fill="#111" textLength="48.06" lengthAdjust="spacingAndGlyphs" >3,5</text>
<text x="793.91" y="952.8" font-size="24.5" font-weight="400" fill="#111" textLength="93.01" lengthAdjust="spacingAndGlyphs" >Navarra</text>
<text x="816.55" y="989.0" font-size="32" font-weight="700" fill="#111" textLength="48.42" lengthAdjust="spacingAndGlyphs" >3,6</text>
<text x="974.13" y="1042.4" font-size="24.5" font-weight="400" fill="#111" textLength="90.43" lengthAdjust="spacingAndGlyphs" >La Rioja</text>
<text x="1000.77" y="1078.6" font-size="32" font-weight="700" fill="#111" textLength="47.18" lengthAdjust="spacingAndGlyphs" >3,4</text>
<text x="1005.72" y="1192.6" font-size="24.5" font-weight="400" fill="#111" textLength="102.43" lengthAdjust="spacingAndGlyphs" >Cataluña</text>
<text x="1034.26" y="1228.5" font-size="32" font-weight="700" fill="#111" textLength="48.06" lengthAdjust="spacingAndGlyphs" >3,8</text>
<text x="1037.94" y="1361.0" font-size="24.5" font-weight="400" fill="#111" textLength="101.71" lengthAdjust="spacingAndGlyphs" >Baleares</text>
<text x="1065.73" y="1396.5" font-size="32" font-weight="700" fill="#111" textLength="48.24" lengthAdjust="spacingAndGlyphs" >4,6</text>
<text x="687.60" y="1193.0" font-size="24.5" font-weight="400" fill="#fff" textLength="87.01" lengthAdjust="spacingAndGlyphs" >Aragón</text>
<text x="710.23" y="1228.0" font-size="32" font-weight="700" fill="#fff" textLength="48.24" lengthAdjust="spacingAndGlyphs" >4,6</text>
<text x="93.05" y="1177.9" font-size="29.5" font-weight="400" fill="#111" textLength="101.19" lengthAdjust="spacingAndGlyphs" >Madrid</text>
<text x="115.68" y="1219.6" font-size="37.6" font-weight="700" fill="#111" textLength="57.27" lengthAdjust="spacingAndGlyphs" >3,6</text>
<text x="62.41" y="1448.0" font-size="24.5" font-weight="400" fill="#111" textLength="149.76" lengthAdjust="spacingAndGlyphs" >Extremadura</text>
<text x="117.57" y="1483.8" font-size="32" font-weight="700" fill="#111" textLength="47.18" lengthAdjust="spacingAndGlyphs" >3,4</text>
<text x="456.22" y="1149.0" font-size="24.5" font-weight="400" fill="#fff" textLength="83.62" lengthAdjust="spacingAndGlyphs" >Castilla</text>
<text x="463.70" y="1181.0" font-size="24.5" font-weight="400" fill="#fff" textLength="77.92" lengthAdjust="spacingAndGlyphs" >y León</text>
<text x="478.73" y="1217.0" font-size="32" font-weight="700" fill="#fff" textLength="48.24" lengthAdjust="spacingAndGlyphs" >4,0</text>
<text x="571.22" y="1325.0" font-size="24.5" font-weight="400" fill="#fff" textLength="83.62" lengthAdjust="spacingAndGlyphs" >Castilla</text>
<text x="544.95" y="1357.0" font-size="24.5" font-weight="400" fill="#fff" textLength="127.00" lengthAdjust="spacingAndGlyphs" >La Mancha</text>
<text x="590.01" y="1393.7" font-size="32" font-weight="700" fill="#fff" textLength="45.31" lengthAdjust="spacingAndGlyphs" >4,1</text>
<text x="463.70" y="1474.0" font-size="24.5" font-weight="400" fill="#fff" textLength="112.25" lengthAdjust="spacingAndGlyphs" >Andalucía</text>
<text x="496.23" y="1510.0" font-size="32" font-weight="700" fill="#fff" textLength="48.24" lengthAdjust="spacingAndGlyphs" >4,3</text>
<text x="143.53" y="1593.0" font-size="24.5" font-weight="400" fill="#111" textLength="101.41" lengthAdjust="spacingAndGlyphs" >Canarias</text>
<text x="170.65" y="1628.6" font-size="32" font-weight="700" fill="#111" textLength="48.42" lengthAdjust="spacingAndGlyphs" >3,9</text>
<text x="406.19" y="1694.7" font-size="24.5" font-weight="400" fill="#111" textLength="69.77" lengthAdjust="spacingAndGlyphs" >Ceuta</text>
<text x="416.70" y="1730.0" font-size="32" font-weight="700" fill="#111" textLength="48.79" lengthAdjust="spacingAndGlyphs" >9,2</text>
<text x="806.22" y="1474.8" font-size="24.5" font-weight="400" fill="#111" textLength="157.71" lengthAdjust="spacingAndGlyphs" >C. Valenciana</text>
<text x="866.24" y="1510.0" font-size="32" font-weight="700" fill="#111" textLength="47.01" lengthAdjust="spacingAndGlyphs" >4,4</text>
<text x="767.66" y="1609.7" font-size="24.5" font-weight="400" fill="#111" textLength="80.22" lengthAdjust="spacingAndGlyphs" >Murcia</text>
<text x="785.06" y="1644.0" font-size="32" font-weight="700" fill="#111" textLength="48.06" lengthAdjust="spacingAndGlyphs" >3,5</text>
<text x="622.59" y="1648.0" font-size="24.5" font-weight="400" fill="#111" textLength="78.25" lengthAdjust="spacingAndGlyphs" >Melilla</text>
<text x="639.06" y="1683.5" font-size="32" font-weight="700" fill="#111" textLength="48.06" lengthAdjust="spacingAndGlyphs" >3,8</text>
<rect x="1057" y="1494" width="73" height="25.5" fill="#CB0A2C"/>
<text x="957.83" y="1553.6" font-size="20.5" font-weight="400" fill="#111" textLength="166.44" lengthAdjust="spacingAndGlyphs" >Por encima de la</text>
<text x="974.84" y="1578.2" font-size="20.5" font-weight="400" fill="#111" textLength="150.95" lengthAdjust="spacingAndGlyphs" >media nacional</text>
<rect x="1057" y="1612.6" width="73" height="25.7" fill="#F5B5AA"/>
<text x="966.19" y="1676.5" font-size="20.5" font-weight="400" fill="#111" textLength="164.77" lengthAdjust="spacingAndGlyphs" >Por debajo de la</text>
<text x="981.34" y="1701.7" font-size="20.5" font-weight="400" fill="#111" textLength="151.05" lengthAdjust="spacingAndGlyphs" >media nacional</text>
<text x="521.67" y="1753.0" font-size="16" font-weight="400" fill="#333" textLength="89.02" lengthAdjust="spacingAndGlyphs" >Fuente: INE</text>
<text x="737.28" y="1753.7" font-size="16" font-weight="400" fill="#222" textLength="419.03" lengthAdjust="spacingAndGlyphs" >Infografía: INFOGRÁFIKA DISEÑO Y COMUNICACIÓN</text>
</g>
</svg>
</body></html>
